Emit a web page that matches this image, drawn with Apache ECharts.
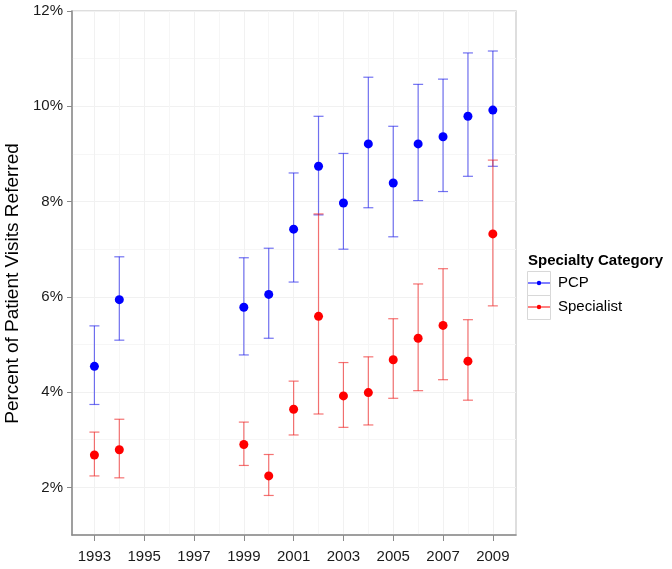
<!DOCTYPE html>
<html>
<head>
<meta charset="utf-8">
<script src="https://cdn.jsdelivr.net/npm/echarts@6/dist/echarts.min.js"></script>
<style>html,body{margin:0;padding:0;background:#fff;}#c{width:672px;height:569px;}</style>
</head>
<body>
<div id="c"></div>
<script>
const years = [1993, 1994, 1999, 2000, 2001, 2002, 2003, 2004, 2005, 2006, 2007, 2008, 2009];
const pcpValue = [4.54, 5.94, 5.78, 6.05, 7.42, 8.74, 7.97, 9.21, 8.39, 9.21, 9.36, 9.79, 9.92];
const pcpLower = [3.74, 5.09, 4.78, 5.13, 6.31, 7.72, 7.00, 7.87, 7.26, 8.02, 8.21, 8.53, 8.74];
const pcpUpper = [5.39, 6.84, 6.82, 7.02, 8.60, 9.79, 9.01, 10.61, 9.58, 10.46, 10.57, 11.12, 11.16];
const specValue = [2.68, 2.79, 2.90, 2.24, 3.64, 5.59, 3.92, 3.99, 4.68, 5.13, 5.40, 4.65, 7.32];
const specLower = [2.24, 2.20, 2.46, 1.83, 3.10, 3.54, 3.26, 3.31, 3.87, 4.03, 4.26, 3.83, 5.81];
const specUpper = [3.16, 3.43, 3.37, 2.69, 4.23, 7.74, 4.62, 4.74, 5.54, 6.27, 6.59, 5.52, 8.87];
const xTickLabels = [1993, 1995, 1997, 1999, 2001, 2003, 2005, 2007, 2009];
const xMinorGrid = [1994, 1996, 1998, 2000, 2002, 2004, 2006, 2008];
const yTickLabels = [2, 4, 6, 8, 10, 12];
const yMinorGrid = [3, 5, 7, 9, 11];
const seriesNames = ['PCP', 'Specialist'];

const FONT = 'Liberation Sans, Arial, Helvetica, sans-serif';
const chart = echarts.init(document.getElementById('c'), null, {renderer: 'canvas'});

function errData(lo, hi) {
  return years.map((y, i) => [y, lo[i], hi[i]]);
}
function errRender(color) {
  return function (params, api) {
    const x = api.value(0);
    const p1 = api.coord([x, api.value(1)]);
    const p2 = api.coord([x, api.value(2)]);
    const hw = 5;
    const style = {stroke: color, lineWidth: 1.2, fill: null};
    return {
      type: 'group',
      children: [
        {type: 'line', shape: {x1: p1[0], y1: p1[1], x2: p2[0], y2: p2[1]}, style: style},
        {type: 'line', shape: {x1: p1[0] - hw, y1: p1[1], x2: p1[0] + hw, y2: p1[1]}, style: style},
        {type: 'line', shape: {x1: p2[0] - hw, y1: p2[1], x2: p2[0] + hw, y2: p2[1]}, style: style}
      ]
    };
  };
}

const legendIcon = 'path://M0,0 L0.01,0 L0.01,0.01 Z M21.99,23.99 L22,23.99 L22,24 Z M0,11.5 L22,11.5 L22,12.5 L0,12.5 Z M8.8,12 A2.2,2.2 0 1,1 13.2,12 A2.2,2.2 0 1,1 8.8,12 Z';

const gridL = 72, gridT = 11, gridR = 156, gridB = 34;

chart.setOption({
  animation: false,
  backgroundColor: '#ffffff',
  grid: {left: gridL, top: gridT, right: gridR, bottom: gridB, show: true, borderColor: '#d4d4d4', borderWidth: 1.5, backgroundColor: '#ffffff', outerBoundsMode: 'none', containLabel: false},
  xAxis: [
    {
      type: 'value', min: 1992.1, max: 2009.93,
      axisLine: {show: true, onZero: false, lineStyle: {color: '#8a8a8a', width: 1.5}},
      axisTick: {show: true, length: 6, customValues: xTickLabels, lineStyle: {color: '#8a8a8a'}},
      axisLabel: {customValues: xTickLabels, color: '#1a1a1a', fontSize: 15, fontFamily: FONT, margin: 14, formatter: v => String(v)},
      splitLine: {show: true, lineStyle: {color: '#f1f1f1', width: 1}}
    },
    {
      type: 'value', min: 1992.1, max: 2009.93, position: 'bottom',
      axisLine: {show: false}, axisLabel: {show: false},
      axisTick: {show: false, customValues: xMinorGrid},
      splitLine: {show: true, lineStyle: {color: '#f6f6f6', width: 1}}
    }
  ],
  yAxis: [
    {
      type: 'value', min: 1, max: 12,
      name: 'Percent of Patient Visits Referred', nameLocation: 'middle', nameGap: 47,
      nameTextStyle: {fontSize: 19, color: '#000', fontFamily: FONT, padding: [0, 21, 0, 0]},
      axisLine: {show: true, onZero: false, lineStyle: {color: '#8a8a8a', width: 1.5}},
      axisTick: {show: true, length: 5, customValues: yTickLabels, lineStyle: {color: '#8a8a8a'}},
      axisLabel: {customValues: yTickLabels, color: '#1a1a1a', fontSize: 15, fontFamily: FONT, margin: 9, formatter: v => v + '%'},
      splitLine: {show: true, lineStyle: {color: '#f1f1f1', width: 1}}
    },
    {
      type: 'value', min: 1, max: 12, position: 'left',
      axisLine: {show: false}, axisLabel: {show: false},
      axisTick: {show: false, customValues: yMinorGrid},
      splitLine: {show: true, lineStyle: {color: '#f6f6f6', width: 1}}
    }
  ],
  legend: {
    orient: 'vertical', left: 528, top: 271, itemGap: 0, itemWidth: 22, itemHeight: 24,
    icon: legendIcon,
    data: [
      {name: 'PCP', itemStyle: {color: '#0000ff'}},
      {name: 'Specialist', itemStyle: {color: '#ff0000'}}
    ],
    textStyle: {fontSize: 15, color: '#000', fontFamily: FONT, padding: [0, 0, 0, 3]},
    padding: 0
  },
  graphic: [
    {type: 'text', left: 528, top: 253, style: {text: 'Specialty Category', font: 'bold 15px ' + FONT, fill: '#000'}},
    {type: 'rect', shape: {x: 527.5, y: 271.5, width: 23, height: 24}, style: {fill: null, stroke: '#d8d8d8', lineWidth: 1}, z: 10},
    {type: 'rect', shape: {x: 527.5, y: 295.5, width: 23, height: 24}, style: {fill: null, stroke: '#d8d8d8', lineWidth: 1}, z: 10}
  ],
  series: [
    {
      name: 'PCP', type: 'custom', xAxisIndex: 0, yAxisIndex: 0,
      renderItem: errRender('rgba(40,40,235,0.65)'),
      data: errData(pcpLower, pcpUpper), encode: {x: 0, y: [1, 2]}, z: 2, silent: true,
      itemStyle: {color: '#0000ff'}
    },
    {
      name: 'Specialist', type: 'custom', xAxisIndex: 0, yAxisIndex: 0,
      renderItem: errRender('rgba(240,40,40,0.65)'),
      data: errData(specLower, specUpper), encode: {x: 0, y: [1, 2]}, z: 2, silent: true,
      itemStyle: {color: '#ff0000'}
    },
    {
      name: 'PCP', type: 'scatter', symbol: 'circle', symbolSize: 9,
      data: years.map((y, i) => [y, pcpValue[i]]),
      itemStyle: {color: '#0000ff', opacity: 1}, z: 3
    },
    {
      name: 'Specialist', type: 'scatter', symbol: 'circle', symbolSize: 9,
      data: years.map((y, i) => [y, specValue[i]]),
      itemStyle: {color: '#ff0000', opacity: 1}, z: 3
    }
  ]
});
</script>
</body>
</html>
